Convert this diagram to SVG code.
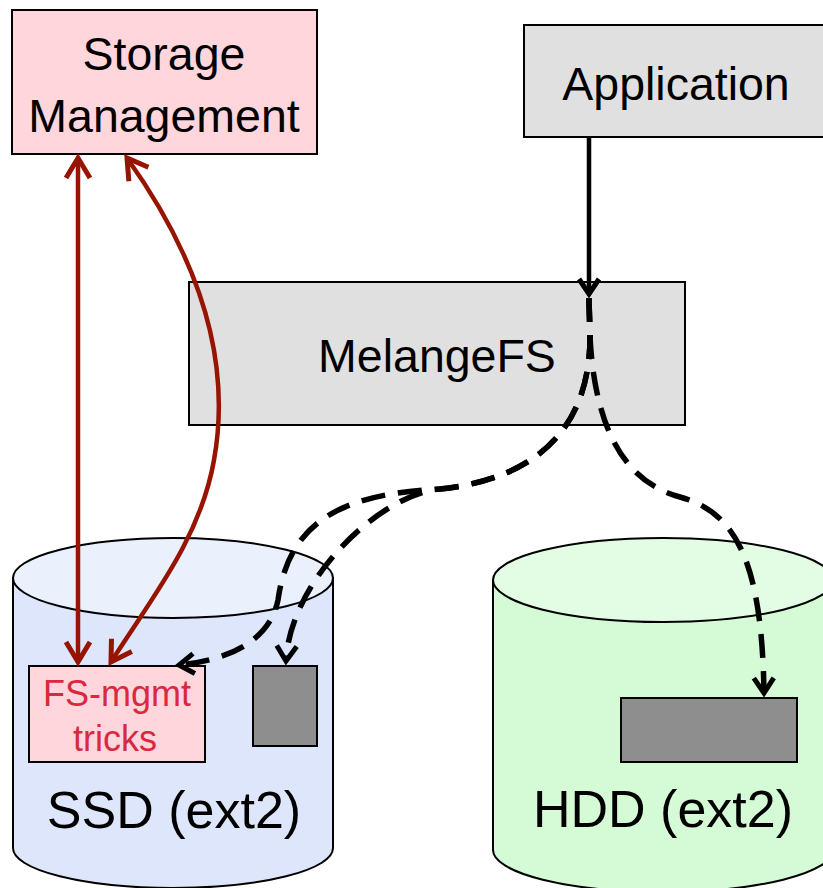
<svg xmlns="http://www.w3.org/2000/svg" width="823" height="888" viewBox="0 0 823 888">
  <style>
    .box { stroke: #000; stroke-width: 2; }
    .gray { fill: #e0e0e0; }
    .pink { fill: #ffd6dc; }
    .block { fill: #8e8e8e; stroke: #000; stroke-width: 2; }
    .lbl { font-family: "Liberation Sans", Arial, sans-serif; text-anchor: middle; fill: #000; }
    .big { font-size: 46.5px; }
    .disk { font-size: 52px; }
    .trick { font-size: 36px; fill: #d9283f; }
    .cyl { stroke: #000; stroke-width: 2; }
    .solid { fill: none; stroke: #000; stroke-width: 4.5; }
    .dash { fill: none; stroke: #000; stroke-width: 5.5; stroke-dasharray: 24 13; }
    .red { fill: none; stroke: #961400; stroke-width: 4.5; }
  </style>
  <defs>
    <marker id="head" markerUnits="userSpaceOnUse" markerWidth="40" markerHeight="40" viewBox="-20 -20 40 40" refX="0" refY="0" orient="auto" overflow="visible">
      <path d="M-15,-10 L0,0 L-15,10" fill="none" stroke="#000" stroke-width="5"/>
    </marker>
    <marker id="redhead" markerUnits="userSpaceOnUse" markerWidth="40" markerHeight="40" viewBox="-20 -20 40 40" refX="0" refY="0" orient="auto-start-reverse" overflow="visible">
      <path d="M-20,-12 L0,0 L-20,12" fill="none" stroke="#961400" stroke-width="5"/>
    </marker>
  </defs>

  <!-- SSD cylinder -->
  <g id="ssd">
    <path class="cyl" fill="#dde6fb" d="M13,578 L13,848 A160,40 0 0 0 333,848 L333,578 Z"/>
    <ellipse class="cyl" fill="#eaf0fc" cx="173" cy="578" rx="160" ry="40"/>
    <text class="lbl disk" x="174" y="828">SSD (ext2)</text>
  </g>

  <!-- HDD cylinder -->
  <g id="hdd">
    <path class="cyl" fill="#d4fbd6" d="M493,580 L493,850 A170,42 0 0 0 833,850 L833,580 Z"/>
    <ellipse class="cyl" fill="#e3fce4" cx="663" cy="580" rx="170" ry="42"/>
    <text class="lbl disk" x="663" y="827">HDD (ext2)</text>
  </g>

  <g id="fs-mgmt">
    <rect class="box pink" x="29" y="666" width="176" height="96"/>
    <text class="lbl trick" x="117" y="706">FS-mgmt</text>
    <text class="lbl trick" x="115" y="751">tricks</text>
  </g>

  <g id="ssd-block">
    <rect class="block" x="253" y="666" width="64" height="80"/>
  </g>

  <g id="hdd-block">
    <rect class="block" x="621" y="698" width="176" height="64"/>
  </g>

  <g id="storage-management">
    <rect class="box pink" x="12" y="10" width="305" height="144"/>
    <text class="lbl big" x="164" y="70">Storage</text>
    <text class="lbl big" x="164" y="132">Management</text>
  </g>

  <g id="application">
    <rect class="box gray" x="524" y="25" width="310" height="112"/>
    <text class="lbl big" x="676" y="100">Application</text>
  </g>

  <g id="melangefs">
    <rect class="box gray" x="189" y="282" width="496" height="143"/>
    <text class="lbl big" x="437" y="372">MelangeFS</text>
  </g>

  <g id="connectors">
    <path class="solid" d="M589,137 L589,294" marker-end="url(#head)"/>
    <path class="dash" d="M589,298 L590,337 C590,420 545,478 440,489 C380,494 290,580 286,661" marker-end="url(#head)"/>
    <path class="dash" d="M589,298 L590,337 C590,420 545,478 440,489 C330,494 288,530 278,600 C270,640 230,660 179,665" marker-end="url(#head)"/>
    <path class="dash" d="M589,298 L590,337 C595,430 625,482 680,497 C735,512 762,560 764,693" marker-end="url(#head)"/>
    <path class="red" d="M78,158 L78,662" marker-start="url(#redhead)" marker-end="url(#redhead)"/>
    <path class="red" d="M127,158 C200,260 232,360 214,460 C200,540 150,600 111,662" marker-start="url(#redhead)" marker-end="url(#redhead)"/>
  </g>
</svg>
